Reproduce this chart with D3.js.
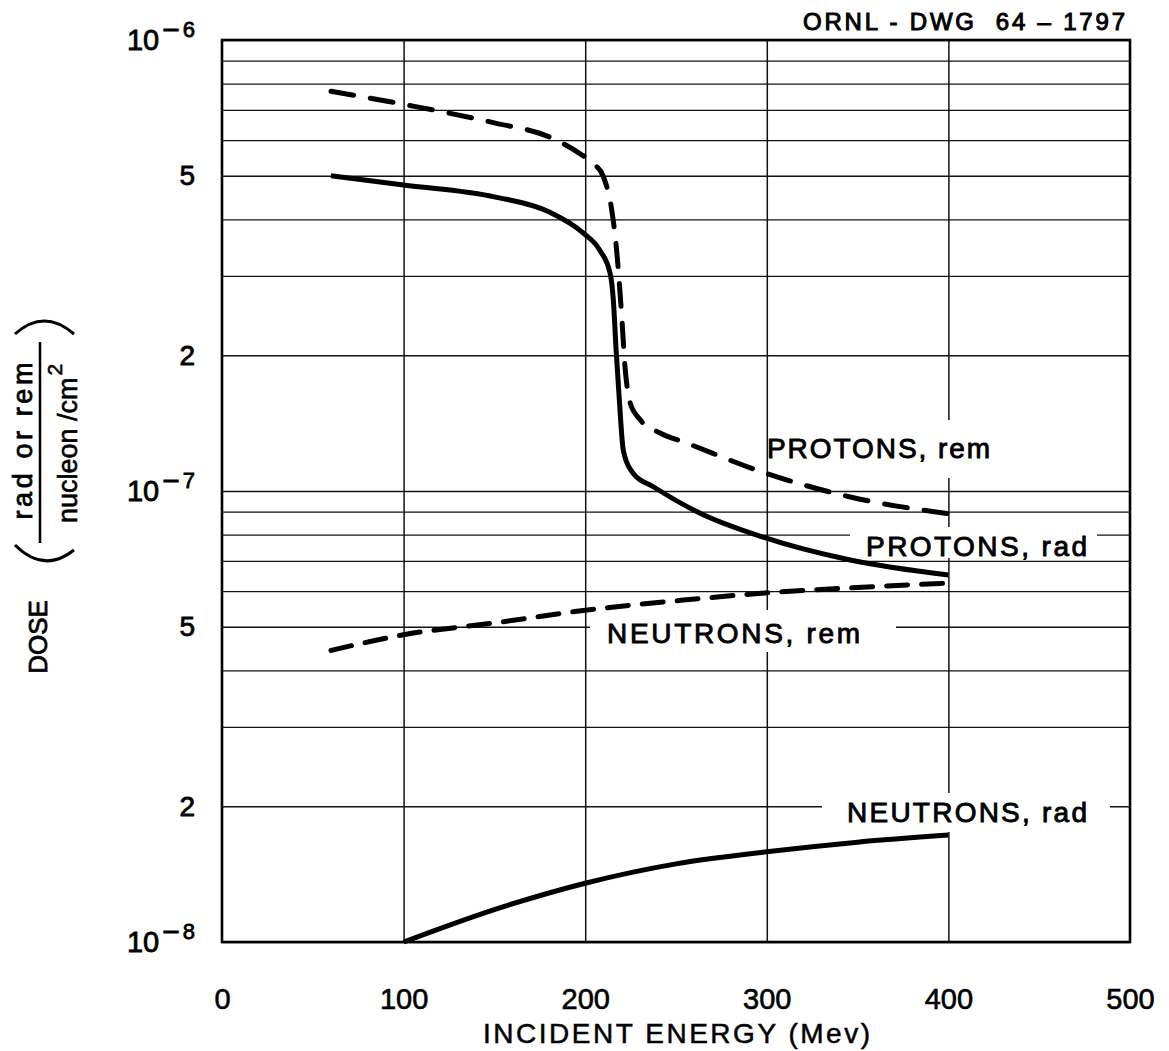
<!DOCTYPE html>
<html>
<head>
<meta charset="utf-8">
<script src="https://cdn.jsdelivr.net/npm/d3@7"></script>
<style>
  html, body { margin: 0; padding: 0; background: #fff; }
  svg { display: block; }
</style>
</head>
<body>
<div id="chart"></div>
<script>
const protonsRemEnergy = [60, 100, 150, 180, 197, 205, 210, 214.6, 217.3, 218.8, 220.1, 221.9, 224.7, 230.2, 241.2, 255.9, 298, 346, 400];
const protonsRemDose   = [7.7e-7, 7.2e-7, 6.55e-7, 6.1e-7, 5.6e-7, 5.3e-7, 4.98e-7, 4.2e-7, 3.42e-7, 2.89e-7, 2.44e-7, 1.89e-7, 1.57e-7, 1.44e-7, 1.345e-7, 1.277e-7, 1.10e-7, 9.7e-8, 8.9e-8];

const protonsRadEnergy = [60, 100, 150, 180, 199, 208, 213.7, 215.5, 217, 218.8, 221, 226.5, 237.5, 263, 298, 346, 400];
const protonsRadDose   = [5.0e-7, 4.77e-7, 4.49e-7, 4.16e-7, 3.73e-7, 3.42e-7, 3.04e-7, 2.65e-7, 2.06e-7, 1.59e-7, 1.23e-7, 1.094e-7, 1.022e-7, 8.94e-8, 7.9e-8, 7.03e-8, 6.51e-8];

const neutronsRemEnergy = [60, 100, 150, 200, 254, 299, 346, 400];
const neutronsRemDose   = [4.43e-8, 4.80e-8, 5.1e-8, 5.44e-8, 5.73e-8, 5.94e-8, 6.10e-8, 6.25e-8];

const neutronsRadEnergy = [100, 150, 200, 250, 300, 350, 400];
const neutronsRadDose   = [1.0e-8, 1.18e-8, 1.35e-8, 1.49e-8, 1.585e-8, 1.665e-8, 1.726e-8];

const xTickValues = [0, 100, 200, 300, 400, 500];
const xGridValues = [100, 200, 300, 400];
const yLabelValues = [1e-8, 2e-8, 5e-8, 1e-7, 2e-7, 5e-7, 1e-6];

const width = 1169, height = 1051;
const plotLeft = 222, plotRight = 1130, plotTop = 40, plotBottom = 942;

const svg = d3.select("#chart").append("svg")
    .attr("width", width)
    .attr("height", height)
    .attr("viewBox", `0 0 ${width} ${height}`);

const x = d3.scaleLinear().domain([0, 500]).range([plotLeft, plotRight]);
const y = d3.scaleLog().domain([1e-8, 1e-6]).range([plotBottom, plotTop]);

const sans = "'Liberation Sans', Arial, sans-serif";

// horizontal grid, every 1..9 of each decade
const yGrid = svg.append("g")
    .attr("transform", `translate(${plotLeft},0)`)
    .call(d3.axisLeft(y).tickValues(y.ticks()).tickSize(-(plotRight - plotLeft)).tickFormat(""));
yGrid.select(".domain").remove();
yGrid.selectAll("line").attr("stroke", "#111").attr("stroke-width", 1.3);

// vertical grid
const xGrid = svg.append("g")
    .attr("transform", `translate(0,${plotBottom})`)
    .call(d3.axisBottom(x).tickValues(xGridValues).tickSize(-(plotBottom - plotTop)).tickFormat(""));
xGrid.select(".domain").remove();
xGrid.selectAll("line").attr("stroke", "#111").attr("stroke-width", 1.5);

// frame
svg.append("rect")
    .attr("x", plotLeft).attr("y", plotTop)
    .attr("width", plotRight - plotLeft).attr("height", plotBottom - plotTop)
    .attr("fill", "none")
    .attr("stroke", "#000")
    .attr("stroke-width", 2.6);

// curve labels sit on white patches that break the grid
const curveLabels = [
    { text: "PROTONS, rem",  x: 767, y: 458, len: 223, box: [770, 420, 1002, 478] },
    { text: "PROTONS, rad",  x: 866, y: 556, len: 221, box: [850, 527, 1097, 558] },
    { text: "NEUTRONS, rem", x: 607, y: 643, len: 253, box: [590, 610, 896, 652] },
    { text: "NEUTRONS, rad", x: 847, y: 822, len: 240, box: [822, 793, 1110, 832] }
];

svg.append("g").selectAll("rect")
    .data(curveLabels)
    .join("rect")
    .attr("x", d => d.box[0])
    .attr("y", d => d.box[1])
    .attr("width", d => d.box[2] - d.box[0])
    .attr("height", d => d.box[3] - d.box[1])
    .attr("fill", "#fff");

// curves
const line = d3.line()
    .x(d => x(d[0]))
    .y(d => y(d[1]))
    .curve(d3.curveMonotoneX);

const series = [
    { e: protonsRemEnergy,  v: protonsRemDose,  dash: "23,17" },
    { e: protonsRadEnergy,  v: protonsRadDose,  dash: null },
    { e: neutronsRemEnergy, v: neutronsRemDose, dash: "21,14" },
    { e: neutronsRadEnergy, v: neutronsRadDose, dash: null }
];

svg.append("g").selectAll("path")
    .data(series)
    .join("path")
    .attr("d", d => line(d3.zip(d.e, d.v)))
    .attr("fill", "none")
    .attr("stroke", "#000")
    .attr("stroke-width", 5)
    .attr("stroke-linecap", d => d.dash ? "round" : "butt")
    .attr("stroke-dasharray", d => d.dash);

svg.append("g").selectAll("text")
    .data(curveLabels)
    .join("text")
    .attr("x", d => d.x)
    .attr("y", d => d.y)
    .attr("textLength", d => d.len)
    .attr("lengthAdjust", "spacing")
    .attr("font-family", sans)
    .attr("font-size", 28)
    .attr("fill", "#000")
    .attr("stroke", "#000")
    .attr("stroke-width", 0.9)
    .text(d => d.text);

// y tick labels: mantissa or power of ten
const yAxis = svg.append("g")
    .attr("transform", `translate(${plotLeft},0)`)
    .call(d3.axisLeft(y).tickValues(yLabelValues).tickSize(0).tickPadding(27)
        .tickFormat(d => {
            const e = Math.floor(Math.log10(d) + 1e-9);
            const m = Math.round(d / Math.pow(10, e));
            return m === 1 ? "" : String(m);
        }));
yAxis.select(".domain").remove();
yAxis.selectAll("text")
    .attr("font-family", sans)
    .attr("font-size", 28)
    .attr("fill", "#000")
    .attr("stroke", "#000")
    .attr("stroke-width", 0.8)
    .each(function(d) {
        const e = Math.floor(Math.log10(d) + 1e-9);
        const m = Math.round(d / Math.pow(10, e));
        if (m !== 1) return;
        const t = d3.select(this).text(null).attr("font-size", 29);
        t.append("tspan").text("10");
        t.append("tspan").attr("dx", 3).attr("dy", -10).attr("font-size", 30).text("\u2212");
        t.append("tspan").attr("dx", 3).attr("dy", -3).attr("font-size", 22).text(String(-e));
    });

// x tick labels
const xAxis = svg.append("g")
    .attr("transform", `translate(0,${plotBottom})`)
    .call(d3.axisBottom(x).tickValues(xTickValues).tickSize(0).tickPadding(46));
xAxis.select(".domain").remove();
xAxis.selectAll("text")
    .attr("font-family", sans)
    .attr("font-size", 29)
    .attr("fill", "#000")
    .attr("stroke", "#000")
    .attr("stroke-width", 0.6);

// x title
svg.append("text")
    .attr("x", 483)
    .attr("y", 1043)
    .attr("textLength", 387)
    .attr("lengthAdjust", "spacing")
    .attr("font-family", sans)
    .attr("font-size", 28)
    .attr("stroke", "#000")
    .attr("stroke-width", 0.5)
    .text("INCIDENT ENERGY (Mev)");

// drawing number
svg.append("text")
    .attr("x", 803)
    .attr("y", 30)
    .attr("textLength", 322)
    .attr("lengthAdjust", "spacing")
    .attr("font-family", sans)
    .attr("font-size", 24)
    .attr("stroke", "#000")
    .attr("stroke-width", 1)
    .style("white-space", "pre")
    .text("ORNL - DWG  64 \u2013 1797");

// y title: DOSE ( rad or rem / nucleon/cm^2 )
const yTitle = svg.append("g");
yTitle.append("text")
    .attr("transform", "translate(47,637) rotate(-90)")
    .attr("text-anchor", "middle")
    .attr("font-family", sans)
    .attr("font-size", 26)
    .attr("stroke", "#000")
    .attr("stroke-width", 0.8)
    .text("DOSE");

yTitle.append("text")
    .attr("transform", "translate(32,441) rotate(-90)")
    .attr("text-anchor", "middle")
    .attr("textLength", 157)
    .attr("lengthAdjust", "spacing")
    .attr("font-family", sans)
    .attr("font-size", 27)
    .attr("stroke", "#000")
    .attr("stroke-width", 0.8)
    .text("rad or rem");

const denom = yTitle.append("text")
    .attr("transform", "translate(77,523) rotate(-90)")
    .attr("font-family", sans)
    .attr("font-size", 27)
    .attr("stroke", "#000")
    .attr("stroke-width", 0.6);
denom.append("tspan").text("nucleon /cm");
denom.append("tspan").attr("dy", -15).attr("dx", 2).attr("font-size", 21).text("2");

yTitle.append("line")
    .attr("x1", 40).attr("x2", 40)
    .attr("y1", 342).attr("y2", 543)
    .attr("stroke", "#000")
    .attr("stroke-width", 2.5);

const parens = d3.path();
parens.moveTo(15, 334);
parens.quadraticCurveTo(44, 308, 74, 334);
parens.moveTo(15, 545);
parens.quadraticCurveTo(44, 574, 74, 550);
yTitle.append("path")
    .attr("d", parens.toString())
    .attr("fill", "none")
    .attr("stroke", "#000")
    .attr("stroke-width", 3);
</script>
</body>
</html>
